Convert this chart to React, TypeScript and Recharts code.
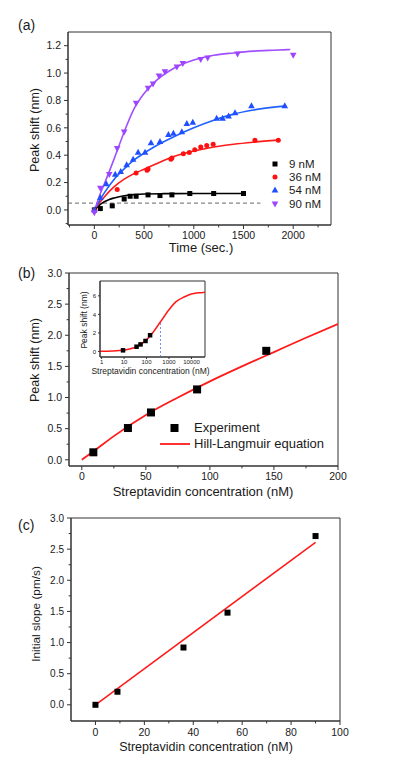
import {
  ComposedChart,
  Legend,
  Line,
  ReferenceArea,
  ReferenceLine,
  Scatter,
  XAxis,
  YAxis,
} from 'recharts'

const FONT = '"Liberation Sans", Arial, sans-serif'
const AXIS = '#333'
const INK = '#1a1a1a'

// ---------- (a) binding kinetics ----------
const A_X_DOMAIN = [-265, 2380]
const A_Y_DOMAIN = [-0.11, 1.3]
const A_X_MAJOR = [0, 500, 1000, 1500, 2000]
const A_X_MINOR = [-250, 250, 750, 1250, 1750, 2250]
const A_Y_MAJOR = [0, 0.2, 0.4, 0.6, 0.8, 1.0, 1.2]
const A_Y_MINOR = [-0.1, 0.1, 0.3, 0.5, 0.7, 0.9, 1.1]
const A_DASH_LEVEL = 0.05
const A_DASH_END = 1670

const PTS_9 = [[0, 0], [60, 0.01], [180, 0.03], [300, 0.08], [360, 0.1], [420, 0.1], [540, 0.11], [660, 0.105], [780, 0.11], [960, 0.12], [1200, 0.12], [1500, 0.12]]
const FIT_9 = [[0, 0], [30, 0.02], [60, 0.04], [100, 0.06], [150, 0.077], [200, 0.088], [300, 0.104], [400, 0.112], [500, 0.117], [700, 0.119], [1000, 0.12], [1500, 0.12]]

const PTS_36 = [[0, 0], [230, 0.15], [420, 0.27], [530, 0.29], [540, 0.3], [770, 0.37], [780, 0.38], [895, 0.41], [955, 0.42], [1010, 0.44], [1070, 0.46], [1130, 0.47], [1195, 0.48], [1615, 0.51], [1850, 0.51]]
const FIT_36 = [[0, 0], [50, 0.05], [100, 0.095], [200, 0.17], [300, 0.225], [400, 0.265], [500, 0.298], [600, 0.33], [800, 0.39], [1000, 0.43], [1200, 0.46], [1400, 0.48], [1600, 0.495], [1850, 0.51]]

const PTS_54 = [[0, 0], [60, 0.09], [120, 0.19], [210, 0.26], [265, 0.28], [325, 0.33], [390, 0.37], [440, 0.42], [510, 0.42], [570, 0.49], [660, 0.5], [745, 0.55], [795, 0.56], [880, 0.57], [930, 0.63], [990, 0.64], [1230, 0.67], [1290, 0.67], [1350, 0.685], [1415, 0.71], [1580, 0.76], [1915, 0.76]]
const FIT_54 = [[0, 0], [50, 0.065], [100, 0.125], [200, 0.225], [300, 0.3], [400, 0.365], [500, 0.415], [600, 0.46], [800, 0.535], [1000, 0.6], [1200, 0.655], [1400, 0.7], [1600, 0.73], [1930, 0.76]]

const PTS_90 = [[0, -0.02], [60, 0.16], [150, 0.26], [230, 0.45], [300, 0.57], [420, 0.78], [540, 0.89], [590, 0.92], [650, 0.98], [710, 1.01], [830, 1.045], [890, 1.07], [1070, 1.1], [1140, 1.11], [1440, 1.14], [2000, 1.13]]
const FIT_90 = [[0, -0.01], [50, 0.1], [100, 0.19], [200, 0.375], [300, 0.57], [400, 0.74], [500, 0.85], [600, 0.93], [800, 1.035], [1000, 1.095], [1200, 1.13], [1400, 1.147], [1600, 1.16], [1800, 1.167], [1970, 1.172]]

const A_SERIES = [
  { name: '9 nM', color: '#000000', line: '#000000', marker: 'square', pts: PTS_9, fit: FIT_9 },
  { name: '36 nM', color: '#ff1010', line: '#ff1a1a', marker: 'circle', pts: PTS_36, fit: FIT_36 },
  { name: '54 nM', color: '#1f4fff', line: '#2060ff', marker: 'up', pts: PTS_54, fit: FIT_54 },
  { name: '90 nM', color: '#9d45ff', line: '#a050ff', marker: 'down', pts: PTS_90, fit: FIT_90 },
]

// ---------- (b) concentration response ----------
const B_X_DOMAIN = [-10, 200]
const B_Y_DOMAIN = [-0.1, 3.0]
const B_X_MAJOR = [0, 50, 100, 150, 200]
const B_X_MINOR = [25, 75, 125, 175]
const B_Y_MAJOR = [0, 0.5, 1.0, 1.5, 2.0, 2.5, 3.0]
const B_Y_MINOR = [0.25, 0.75, 1.25, 1.75, 2.25, 2.75]
const B_PTS = [[9, 0.12], [36, 0.51], [54, 0.76], [90, 1.13], [144, 1.75]]
const B_FIT = [[0, 0], [10, 0.15], [25, 0.38], [50, 0.72], [75, 1.0], [100, 1.26], [125, 1.5], [150, 1.73], [175, 1.96], [200, 2.18]]

// inset (log x)
const I_X_DOMAIN = [0.85, 40000]
const I_Y_DOMAIN = [-0.6, 7.6]
const I_X_TICKS = [1, 10, 100, 1000, 10000]
const I_Y_TICKS = [0, 2, 4, 6]
const I_FIT = [[0.85, 0.02], [3, 0.05], [10, 0.15], [30, 0.43], [100, 1.25], [200, 2.1], [420, 3.2], [1000, 4.5], [2000, 5.35], [5000, 5.9], [10000, 6.2], [20000, 6.32], [40000, 6.4]]
const I_HALF_X = 420
const I_HALF_Y = 3.2

// ---------- (c) initial slope ----------
const C_X_DOMAIN = [-10, 100]
const C_Y_DOMAIN = [-0.26, 3.0]
const C_X_MAJOR = [0, 20, 40, 60, 80, 100]
const C_X_MINOR = [10, 30, 50, 70, 90]
const C_Y_MAJOR = [0, 0.5, 1.0, 1.5, 2.0, 2.5, 3.0]
const C_Y_MINOR = [0.25, 0.75, 1.25, 1.75, 2.25, 2.75]
const C_PTS = [[0, 0], [9, 0.21], [36, 0.92], [54, 1.48], [90, 2.71]]
const C_FIT = [[0, 0], [90, 2.61]]

const xy = (pairs: number[][]) => pairs.map(([x, y]) => ({ x, y }))
const allTicks = (a: number[], b: number[]) => [...a, ...b].sort((p, q) => p - q)
const isMajor = (majors: number[], v: number) => majors.some((m) => Math.abs(m - v) < 1e-9)

type TickOpts = { majors: number[]; fmt: (v: number) => string; size: number; len: number; gap: number }

const xTick = (o: TickOpts) => (p: any) => {
  const v = p.payload.value
  const major = isMajor(o.majors, v)
  return (
    <g>
      <line x1={p.x} y1={p.y} x2={p.x} y2={p.y + (major ? o.len : o.len * 0.6)} stroke={AXIS} />
      {major && (
        <text x={p.x} y={p.y + o.gap} textAnchor="middle" fontSize={o.size} fontFamily={FONT} fill={INK}>
          {o.fmt(v)}
        </text>
      )}
    </g>
  )
}

const yTick = (o: TickOpts) => (p: any) => {
  const v = p.payload.value
  const major = isMajor(o.majors, v)
  return (
    <g>
      <line x1={p.x} y1={p.y} x2={p.x - (major ? o.len : o.len * 0.6)} y2={p.y} stroke={AXIS} />
      {major && (
        <text x={p.x - o.gap} y={p.y + o.size * 0.36} textAnchor="end" fontSize={o.size} fontFamily={FONT} fill={INK}>
          {o.fmt(v)}
        </text>
      )}
    </g>
  )
}

function Marker({ kind, cx, cy, s, fill }: { kind: string; cx: number; cy: number; s: number; fill: string }) {
  if (kind === 'circle') return <circle cx={cx} cy={cy} r={s / 2} fill={fill} />
  if (kind === 'up')
    return <polygon points={`${cx},${cy - s * 0.6} ${cx - s * 0.55},${cy + s * 0.4} ${cx + s * 0.55},${cy + s * 0.4}`} fill={fill} />
  if (kind === 'down')
    return <polygon points={`${cx},${cy + s * 0.6} ${cx - s * 0.55},${cy - s * 0.4} ${cx + s * 0.55},${cy - s * 0.4}`} fill={fill} />
  return <rect x={cx - s / 2} y={cy - s / 2} width={s} height={s} fill={fill} />
}

const shape = (kind: string, s: number, fill: string) => (p: any) => <Marker kind={kind} cx={p.cx} cy={p.cy} s={s} fill={fill} />
const markerSize = (kind: string) => (kind === 'square' ? 5 : kind === 'circle' ? 5 : 6)

const int = (v: number) => String(v)
const one = (v: number) => v.toFixed(1)

function LegendA() {
  return (
    <div style={{ fontFamily: FONT, fontSize: 11.5, color: INK }}>
      {A_SERIES.map((s) => (
        <div key={s.name} style={{ display: 'flex', alignItems: 'center', height: 13.4 }}>
          <svg width={10} height={10} style={{ marginRight: 9 }}>
            <Marker kind={s.marker} cx={5} cy={5} s={markerSize(s.marker)} fill={s.color} />
          </svg>
          <span>{s.name}</span>
        </div>
      ))}
    </div>
  )
}

function LegendB() {
  return (
    <div style={{ fontFamily: FONT, fontSize: 13, color: INK, lineHeight: '15.7px' }}>
      <div style={{ display: 'flex', alignItems: 'center', height: 15.7 }}>
        <svg width={30} height={12} style={{ marginRight: 4 }}>
          <rect x={10.5} y={2} width={8} height={8} fill="#000" />
        </svg>
        <span>Experiment</span>
      </div>
      <div style={{ display: 'flex', alignItems: 'center', height: 15.7 }}>
        <svg width={30} height={12} style={{ marginRight: 4 }}>
          <line x1={0} y1={6} x2={30} y2={6} stroke="#ff1a1a" strokeWidth={1.8} />
        </svg>
        <span>Hill-Langmuir equation</span>
      </div>
    </div>
  )
}

function PanelA() {
  return (
    <ComposedChart width={395} height={260} margin={{ top: 32, right: 64, bottom: 0, left: 0 }}>
      <XAxis
        type="number"
        dataKey="x"
        domain={A_X_DOMAIN}
        allowDataOverflow
        ticks={allTicks(A_X_MAJOR, A_X_MINOR)}
        interval={0}
        tickSize={0}
        tickMargin={0}
        tickLine={false}
        axisLine={{ stroke: AXIS }}
        tick={xTick({ majors: A_X_MAJOR, fmt: int, size: 10.5, len: 4, gap: 14 })}
        height={35}
      />
      <YAxis
        type="number"
        domain={A_Y_DOMAIN}
        allowDataOverflow
        ticks={allTicks(A_Y_MAJOR, A_Y_MINOR)}
        interval={0}
        tickSize={0}
        tickMargin={0}
        tickLine={false}
        axisLine={{ stroke: AXIS }}
        tick={yTick({ majors: A_Y_MAJOR, fmt: one, size: 10.5, len: 4, gap: 7 })}
        width={68}
      />
      <ReferenceArea x1={A_X_DOMAIN[0]} x2={A_X_DOMAIN[1]} y1={A_Y_DOMAIN[0]} y2={A_Y_DOMAIN[1]} fill="none" stroke={AXIS} strokeOpacity={1} />
      <ReferenceLine
        segment={[{ x: A_X_DOMAIN[0], y: A_DASH_LEVEL }, { x: A_DASH_END, y: A_DASH_LEVEL }]}
        stroke="#666"
        strokeDasharray="4 3"
      />
      {A_SERIES.map((s) => (
        <Line
          key={s.name + 'fit'}
          data={xy(s.fit)}
          dataKey="y"
          type="monotone"
          stroke={s.line}
          strokeWidth={1.6}
          dot={false}
          legendType="none"
          isAnimationActive={false}
        />
      ))}
      {A_SERIES.map((s) => (
        <Scatter
          key={s.name}
          name={s.name}
          data={xy(s.pts)}
          dataKey="y"
          fill={s.color}
          shape={shape(s.marker, markerSize(s.marker), s.color)}
          isAnimationActive={false}
        />
      ))}
      <Legend
        layout="vertical"
        align="center"
        verticalAlign="middle"
        content={() => <LegendA />}
        wrapperStyle={{ left: 270, top: 157, width: 80 }}
      />
    </ComposedChart>
  )
}

function Inset() {
  return (
    <ComposedChart width={160} height={100} margin={{ top: 11, right: 15, bottom: 0, left: 0 }}>
      <XAxis
        type="number"
        dataKey="x"
        scale="log"
        domain={I_X_DOMAIN}
        allowDataOverflow
        ticks={I_X_TICKS}
        interval={0}
        tickSize={0}
        tickMargin={0}
        tickLine={false}
        axisLine={{ stroke: AXIS }}
        tick={xTick({ majors: I_X_TICKS, fmt: int, size: 6, len: 2, gap: 6.5 })}
        height={13}
      />
      <YAxis
        type="number"
        domain={I_Y_DOMAIN}
        allowDataOverflow
        ticks={I_Y_TICKS}
        interval={0}
        tickSize={0}
        tickMargin={0}
        tickLine={false}
        axisLine={{ stroke: AXIS }}
        tick={yTick({ majors: I_Y_TICKS, fmt: int, size: 6, len: 2, gap: 4 })}
        width={40}
      />
      <ReferenceArea x1={I_X_DOMAIN[0]} x2={I_X_DOMAIN[1]} y1={I_Y_DOMAIN[0]} y2={I_Y_DOMAIN[1]} fill="#fff" fillOpacity={1} stroke={AXIS} strokeOpacity={1} />
      <ReferenceLine
        segment={[{ x: I_HALF_X, y: I_Y_DOMAIN[0] }, { x: I_HALF_X, y: I_HALF_Y }]}
        stroke="#6f8ff0"
        strokeDasharray="2 2"
      />
      <Line data={xy(I_FIT)} dataKey="y" type="monotone" stroke="#ff1a1a" strokeWidth={1.5} dot={false} isAnimationActive={false} />
      <Scatter data={xy(B_PTS)} dataKey="y" shape={shape('square', 4.5, '#000')} isAnimationActive={false} />
    </ComposedChart>
  )
}

function PanelB() {
  return (
    <ComposedChart width={395} height={260} margin={{ top: 23, right: 57, bottom: 0, left: 0 }}>
      <XAxis
        type="number"
        dataKey="x"
        domain={B_X_DOMAIN}
        allowDataOverflow
        ticks={allTicks(B_X_MAJOR, B_X_MINOR)}
        interval={0}
        tickSize={0}
        tickMargin={0}
        tickLine={false}
        axisLine={{ stroke: AXIS }}
        tick={xTick({ majors: B_X_MAJOR, fmt: int, size: 10.5, len: 4, gap: 14 })}
        height={44}
      />
      <YAxis
        type="number"
        domain={B_Y_DOMAIN}
        allowDataOverflow
        ticks={allTicks(B_Y_MAJOR, B_Y_MINOR)}
        interval={0}
        tickSize={0}
        tickMargin={0}
        tickLine={false}
        axisLine={{ stroke: AXIS }}
        tick={yTick({ majors: B_Y_MAJOR, fmt: one, size: 10.5, len: 4, gap: 7 })}
        width={69}
      />
      <ReferenceArea x1={B_X_DOMAIN[0]} x2={B_X_DOMAIN[1]} y1={B_Y_DOMAIN[0]} y2={B_Y_DOMAIN[1]} fill="none" stroke={AXIS} strokeOpacity={1} />
      <Line data={xy(B_FIT)} dataKey="y" type="monotone" stroke="#ff1a1a" strokeWidth={1.8} dot={false} isAnimationActive={false} />
      <Scatter data={xy(B_PTS)} dataKey="y" shape={shape('square', 8, '#000')} isAnimationActive={false} />
      <Legend
        layout="vertical"
        align="center"
        verticalAlign="middle"
        content={() => <LegendB />}
        wrapperStyle={{ left: 160, top: 170, width: 200 }}
      />
    </ComposedChart>
  )
}

function PanelC() {
  return (
    <ComposedChart width={395} height={263} margin={{ top: 13, right: 55, bottom: 0, left: 0 }}>
      <XAxis
        type="number"
        dataKey="x"
        domain={C_X_DOMAIN}
        allowDataOverflow
        ticks={allTicks(C_X_MAJOR, C_X_MINOR)}
        interval={0}
        tickSize={0}
        tickMargin={0}
        tickLine={false}
        axisLine={{ stroke: AXIS }}
        tick={xTick({ majors: C_X_MAJOR, fmt: int, size: 10.5, len: 4, gap: 15 })}
        height={47}
      />
      <YAxis
        type="number"
        domain={C_Y_DOMAIN}
        allowDataOverflow
        ticks={allTicks(C_Y_MAJOR, C_Y_MINOR)}
        interval={0}
        tickSize={0}
        tickMargin={0}
        tickLine={false}
        axisLine={{ stroke: AXIS }}
        tick={yTick({ majors: C_Y_MAJOR, fmt: one, size: 10, len: 4, gap: 7 })}
        width={71}
      />
      <ReferenceArea x1={C_X_DOMAIN[0]} x2={C_X_DOMAIN[1]} y1={C_Y_DOMAIN[0]} y2={C_Y_DOMAIN[1]} fill="none" stroke={AXIS} strokeOpacity={1} />
      <Line data={xy(C_FIT)} dataKey="y" type="linear" stroke="#ff1a1a" strokeWidth={1.5} dot={false} isAnimationActive={false} />
      <Scatter data={xy(C_PTS)} dataKey="y" shape={shape('square', 6, '#000')} isAnimationActive={false} />
    </ComposedChart>
  )
}

function Labels() {
  const t = { fontFamily: FONT, fill: INK }
  return (
    <svg width={395} height={768} style={{ position: 'absolute', left: 0, top: 0, pointerEvents: 'none' }}>
      <text x={18} y={30} fontSize={14} {...t}>(a)</text>
      <text x={18} y={278} fontSize={14} {...t}>(b)</text>
      <text x={18} y={530} fontSize={14} {...t}>(c)</text>
      <text x={201} y={252} fontSize={13} textAnchor="middle" {...t}>Time (sec.)</text>
      <text x={39} y={130} fontSize={12.5} textAnchor="middle" transform="rotate(-90 39 130)" {...t}>Peak shift (nm)</text>
      <text x={203} y={496} fontSize={13} textAnchor="middle" {...t}>Streptavidin concentration (nM)</text>
      <text x={39} y={360} fontSize={12.5} textAnchor="middle" transform="rotate(-90 39 360)" {...t}>Peak shift (nm)</text>
      <text x={150.5} y={373.5} fontSize={8.5} textAnchor="middle" {...t}>Streptavidin concentration (nM)</text>
      <text x={87} y={320} fontSize={8.5} textAnchor="middle" transform="rotate(-90 87 320)" {...t}>Peak shift (nm)</text>
      <text x={206} y={751} fontSize={12.5} textAnchor="middle" {...t}>Streptavidin concentration (nM)</text>
      <text x={40} y={614} fontSize={11.8} textAnchor="middle" transform="rotate(-90 40 614)" {...t}>Initial slope (pm/s)</text>
    </svg>
  )
}

export default function App() {
  return (
    <div style={{ position: 'absolute', left: 0, top: 0, width: 395, height: 768, background: '#fff', fontFamily: FONT }}>
      <div style={{ position: 'absolute', left: 0, top: 0 }}>
        <PanelA />
      </div>
      <div style={{ position: 'absolute', left: 0, top: 250 }}>
        <PanelB />
      </div>
      <div style={{ position: 'absolute', left: 60, top: 270 }}>
        <Inset />
      </div>
      <div style={{ position: 'absolute', left: 0, top: 505 }}>
        <PanelC />
      </div>
      <Labels />
    </div>
  )
}
